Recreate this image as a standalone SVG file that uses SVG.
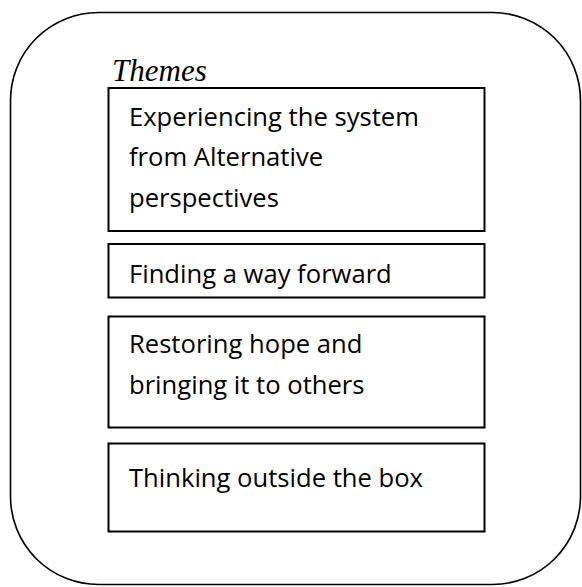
<svg xmlns="http://www.w3.org/2000/svg" width="582" height="587" viewBox="0 0 582 587">
<style>
.box{fill:#fff;stroke:#000;stroke-width:2}
.t{font-family:"Open Sans","Noto Sans",sans-serif;font-size:25.6px;fill:#000}
.h{font-family:"Liberation Serif",serif;font-style:italic;font-size:31px;fill:#000}
</style>
<rect x="0" y="0" width="582" height="587" fill="#fff"/>
<g id="frame">
<rect x="10.5" y="12.5" width="570" height="572" rx="88" ry="88" fill="#fff" stroke="#000" stroke-width="1.6"/>
<text class="h" x="112" y="81">Themes</text>
</g>
<g id="connectors"></g>
<g id="theme1">
<rect class="box" x="108.5" y="88" width="376" height="143"/>
<text class="t" x="129" y="125.7">Experiencing the system</text>
<text class="t" x="129" y="166.2">from Alternative</text>
<text class="t" x="129" y="206.7">perspectives</text>
</g>
<g id="theme2">
<rect class="box" x="108.5" y="244" width="376" height="53.5"/>
<text class="t" x="129" y="283.3">Finding a way forward</text>
</g>
<g id="theme3">
<rect class="box" x="108.5" y="316.5" width="376" height="111"/>
<text class="t" x="129" y="353.3">Restoring hope and</text>
<text class="t" x="129" y="393.5">bringing it to others</text>
</g>
<g id="theme4">
<rect class="box" x="108.5" y="443.5" width="376" height="88"/>
<text class="t" x="129" y="486.7">Thinking outside the box</text>
</g>
</svg>
